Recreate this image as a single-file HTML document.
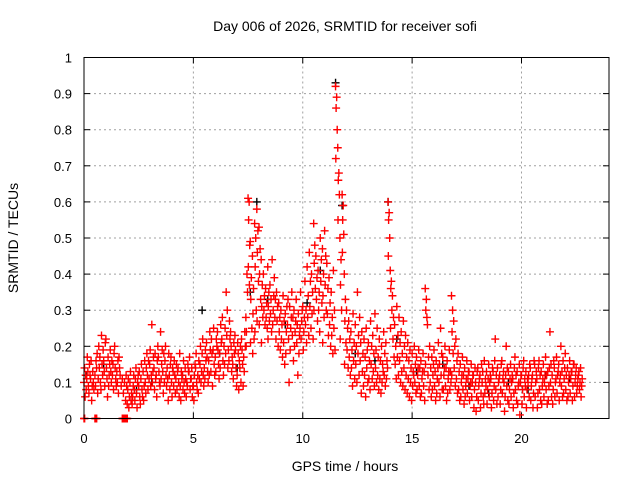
<!DOCTYPE html>
<html><head><meta charset="utf-8"><style>
html,body{margin:0;padding:0;background:#fff;}
svg{display:block;font-family:"Liberation Sans",sans-serif;}
</style></head><body>
<svg id="chart" width="640" height="480" viewBox="0 0 640 480">
<rect width="640" height="480" fill="#fff"/>
<text x="345" y="31" font-size="14" text-anchor="middle" fill="#000">Day 006 of 2026, SRMTID for receiver sofi</text>
<text transform="translate(18,238) rotate(-90)" font-size="14" text-anchor="middle" fill="#000">SRMTID / TECUs</text>
<text x="345" y="471" font-size="14" text-anchor="middle" fill="#000">GPS time / hours</text>
<g id="grid"></g>
<g id="ticks"></g>
<g id="black"></g>
<g id="red"></g>
<rect x="84" y="57.5" width="525" height="361" fill="none" stroke="#000" stroke-width="1"/>
</svg>
<script>
const xTicks = [0,5,10,15,20];
const yTicks = [0,0.1,0.2,0.3,0.4,0.5,0.6,0.7,0.8,0.9,1];
const yTickLabels = ["0","0.1","0.2","0.3","0.4","0.5","0.6","0.7","0.8","0.9","1"];
const redTimes = [0.0,0.1,0.2,0.3,0.4,0.5,0.6,0.7,0.8,0.9,1.0,1.1,1.2,1.3,1.4,1.5,1.6,1.7,1.8,1.9,2.0,2.1,2.2,2.3,2.4,2.5,2.6,2.7,2.8,2.9,3.0,3.1,3.2,3.3,3.4,3.5,3.6,3.7,3.8,3.9,4.0,4.1,4.2,4.3,4.4,4.5,4.6,4.7,4.8,4.9,5.0,5.1,5.2,5.3,5.4,5.5,5.6,5.7,5.8,5.9,6.0,6.1,6.2,6.3,6.4,6.5,6.6,6.7,6.8,6.9,7.0,7.1,7.2,7.3,7.4,7.5,7.6,7.7,7.8,7.9,8.0,8.1,8.2,8.3,8.4,8.5,8.6,8.7,8.8,8.9,9.0,9.1,9.2,9.3,9.4,9.5,9.6,9.7,9.8,9.9,10.0,10.1,10.2,10.3,10.4,10.5,10.6,10.7,10.8,10.9,11.0,11.1,11.2,11.3,11.4,11.5,11.6,11.7,11.8,11.9,12.0,12.1,12.2,12.3,12.4,12.5,12.6,12.7,12.8,12.9,13.0,13.1,13.2,13.3,13.4,13.5,13.6,13.7,13.8,13.9,14.0,14.1,14.2,14.3,14.4,14.5,14.6,14.7,14.8,14.9,15.0,15.1,15.2,15.3,15.4,15.5,15.6,15.7,15.8,15.9,16.0,16.1,16.2,16.3,16.4,16.5,16.6,16.7,16.8,16.9,17.0,17.1,17.2,17.3,17.4,17.5,17.6,17.7,17.8,17.9,18.0,18.1,18.2,18.3,18.4,18.5,18.6,18.7,18.8,18.9,19.0,19.1,19.2,19.3,19.4,19.5,19.6,19.7,19.8,19.9,20.0,20.1,20.2,20.3,20.4,20.5,20.6,20.7,20.8,20.9,21.0,21.1,21.2,21.3,21.4,21.5,21.6,21.7,21.8,21.9,22.0,22.1,22.2,22.3,22.4,22.5,22.6,22.7];
const redValues = [
[.10,.06,.14,.12],[.08,.17,.11,.13],[.09,.15,.07,.12],[.11,.05,.16,.09],[.13,.08,.10],[.12,.16,.09,.14],[.18,.11,.07,.20],[.14,.10,.17,.08],[.23,.12,.15,.19],[.16,.09,.13,.21],
[.22,.11,.14,.06],[.17,.12,.09,.15],[.19,.10,.13,.16],[.12,.08,.15,.18],[.20,.11,.14,.09],[.13,.16,.10,.07],[.17,.12,.14],[.09,.11],[.07,.10],[.05,.09,.12,.04],
[.08,.03,.11,.06],[.10,.05,.13,.07],[.04,.09,.06,.12],[.08,.11,.05,.14],[.07,.10,.03,.12],[.09,.06,.13,.04],[.11,.08,.15,.06],[.13,.09,.05,.16],[.10,.14,.07,.18],[.12,.16,.08,.11],
[.15,.09,.19,.12],[.26,.13,.10,.17],[.14,.18,.08,.11],[.12,.16,.06,.20],[.17,.10,.13,.09],[.24,.15,.11,.19],[.13,.18,.07,.10],[.16,.12,.20,.09],[.14,.05,.11,.18],[.12,.15,.08,.17],
[.10,.14,.06,.13],[.09,.12,.16,.07],[.11,.08,.15,.13],[.14,.06,.10,.18],[.09,.13,.05,.11],[.12,.16,.08,.10],[.07,.11,.14,.06],[.10,.15,.09,.13],[.13,.08,.17,.11],[.11,.06,.14,.09],
[.09,.12,.05,.15],[.14,.10,.18,.08],[.12,.16,.07,.11],[.15,.10,.20,.13],[.18,.12,.22,.09],[.14,.19,.11,.16],[.21,.13,.17,.10],[.16,.24,.12,.19],[.13,.18,.22,.09],[.19,.15,.25,.12],
[.17,.22,.13,.20],[.24,.15,.19,.11],[.18,.26,.14,.21],[.22,.16,.28,.12],[.20,.25,.15,.18],[.35,.30,.23,.14],[.19,.27,.16,.22],[.24,.13,.20,.17],[.15,.21,.11,.18],[.23,.14,.19,.09],
[.12,.18,.21,.08],[.16,.20,.14,.10],[.22,.15,.19,.09],[.17,.24,.13,.20],[.28,.40,.24,.35,.20],[.61,.60,.55,.48,.42,.37],[.49,.39,.33,.25,.21],[.45,.36,.29,.22,.18],[.54,.50,.42,.30,.24],[.58,.52,.46,.38,.27],
[.53,.47,.40,.33,.26],[.44,.37,.31,.28,.21],[.40,.34,.30,.26],[.36,.32,.28,.25],[.42,.35,.31,.27,.22],[.37,.33,.29,.24],[.44,.30,.26,.34],[.39,.33,.28,.22],[.35,.31,.27,.20],[.32,.28,.24,.19],
[.30,.26,.22,.17],[.34,.27,.21,.15],[.29,.24,.18,.31],[.26,.22,.33,.10],[.31,.25,.19,.28],[.35,.28,.23,.16],[.30,.24,.20,.27],[.33,.26,.21,.12],[.29,.23,.18,.25],[.35,.27,.22,.30],
[.31,.24,.19,.28],[.38,.30,.26,.21],[.42,.34,.28,.23],[.46,.38,.31,.25],[.40,.35,.29,.22],[.54,.48,.43,.36,.30],[.45,.39,.33,.27],[.41,.35,.30,.24],[.50,.44,.38,.32],[.47,.40,.34,.28,.21],
[.52,.45,.37,.30],[.43,.36,.29,.23],[.39,.32,.26,.20],[.35,.28,.23,.18],[.41,.30,.25,.19],[.92,.89,.86,.80,.72],[.75,.68,.66,.62,.55],[.50,.44,.37,.30,.22],[.62,.59,.55,.51,.46],[.40,.33,.27,.21,.15],
[.30,.25,.19,.14],[.27,.22,.17,.12],[.24,.19,.14,.09],[.29,.21,.16,.11],[.26,.20,.15,.10],[.35,.23,.18,.12],[.28,.21,.16,.07],[.24,.18,.13,.09],[.22,.17,.12,.06],[.25,.19,.14,.10],
[.21,.16,.11,.08],[.27,.20,.15,.11],[.23,.18,.13,.09],[.29,.19,.14,.10],[.25,.17,.12,.08],[.22,.16,.11,.07],[.20,.15,.10,.13],[.24,.18,.12,.09],[.21,.16,.11,.14],[.60,.57,.55,.50,.45],
[.41,.38,.36,.30,.25],[.34,.28,.22,.17],[.26,.20,.15,.11],[.31,.23,.17,.12],[.28,.21,.16,.10],[.24,.18,.13,.09],[.27,.20,.14,.08],[.23,.17,.12,.07],[.21,.16,.11,.06],[.19,.14,.10,.05],
[.18,.13,.09,.12],[.20,.15,.10,.07],[.17,.12,.08,.14],[.19,.14,.09,.06],[.16,.11,.07,.13],[.18,.13,.09,.05],[.36,.33,.30,.28,.15],[.26,.17,.12,.08],[.20,.14,.10,.06],[.17,.12,.08,.15],
[.19,.13,.09,.05],[.16,.11,.07,.14],[.21,.15,.10,.06],[.25,.18,.12,.08],[.17,.12,.08,.14],[.20,.14,.09,.05],[.16,.11,.07,.13],[.19,.13,.08,.10],[.34,.30,.24,.18,.12],[.27,.20,.14,.09],
[.22,.16,.11,.07],[.18,.13,.08,.05],[.15,.10,.06,.12],[.17,.12,.08,.04],[.14,.09,.06,.11],[.16,.11,.07,.13],[.13,.09,.05,.10],[.15,.10,.06,.12],[.12,.08,.03,.14],[.10,.06,.02,.13],
[.14,.09,.05,.11],[.12,.07,.03,.15],[.10,.06,.13,.04],[.16,.11,.07,.09],[.13,.08,.04,.11],[.15,.10,.06,.12],[.11,.07,.03,.14],[.13,.09,.05,.16],[.22,.12,.08,.04],[.14,.10,.06,.11],
[.12,.08,.04,.15],[.16,.11,.07,.13],[.10,.06,.02,.12],[.20,.14,.09,.05],[.13,.08,.04,.11],[.15,.10,.06,.12],[.11,.07,.03,.14],[.17,.12,.08,.05],[.13,.09,.04,.10],[.15,.10,.01,.12],
[.12,.08,.04,.14],[.16,.11,.06,.09],[.13,.08,.03,.11],[.10,.06,.12,.15],[.14,.09,.05,.11],[.12,.07,.03,.16],[.15,.10,.06,.13],[.11,.07,.03,.14],[.16,.12,.08,.05],[.13,.09,.04,.11],
[.15,.10,.06,.12],[.17,.12,.08,.04],[.13,.09,.05,.14],[.24,.15,.10,.06],[.12,.08,.04,.16],[.14,.10,.06,.11],[.17,.12,.07,.13],[.15,.10,.05,.12],[.20,.13,.09,.06],[.16,.11,.07,.14],
[.18,.12,.08,.05],[.14,.10,.06,.12],[.16,.11,.07,.13],[.13,.09,.05,.15],[.15,.10,.06,.12],[.14,.09,.07,.11],[.12,.08,.13,.10],[.14,.09,.06,.11]
];
const zeroTimes = [0.0,0.5,0.55,1.75,1.8,1.85,1.9,1.95];
const blackTimes = [0.1,0.9,2.4,3.1,4.5,5.4,6.2,7.0,7.6,7.9,8.4,9.2,10.2,10.8,11.5,11.8,12.4,13.3,13.9,14.3,15.2,16.4,17.6,18.5,19.4,20.3,21.1,22.2];
const blackValues = [0.12,0.15,0.08,0.10,0.12,0.30,0.18,0.14,0.35,0.60,0.33,0.26,0.32,0.41,0.93,0.59,0.18,0.16,0.60,0.22,0.13,0.15,0.09,0.07,0.10,0.08,0.12,0.11];

const NS='http://www.w3.org/2000/svg';
const X0=84,X1=609,Y0=418.5,Y1=57.5,XMAX=24;
function xs(t){return X0+(t/XMAX)*(X1-X0);}
function ys(v){return Y0-v*(Y0-Y1);}
const grid=document.getElementById('grid'),ticks=document.getElementById('ticks');
function mk(tag,attrs,parent){const e=document.createElementNS(NS,tag);for(const k in attrs)e.setAttribute(k,attrs[k]);parent.appendChild(e);return e;}
yTicks.forEach((v,i)=>{
  const y=ys(v);
  if(i>0&&i<yTicks.length-1){const g=mk('line',{x1:X0,x2:X1,y1:y,y2:y,stroke:'#a0a0a0','stroke-dasharray':'2,3'},grid);
  
  }
  mk('line',{x1:X0,x2:X0+6,y1:y,y2:y,stroke:'#000'},ticks);
  mk('line',{x1:X1-6,x2:X1,y1:y,y2:y,stroke:'#000'},ticks);
  const t=mk('text',{x:72,y:y+5,'font-size':13,'text-anchor':'end',fill:'#000'},ticks);
  t.textContent=yTickLabels[i];
  
  
});
xTicks.forEach(v=>{
  const x=xs(v);
  if(v>0){const g=mk('line',{x1:x,x2:x,y1:Y0,y2:Y1,stroke:'#a0a0a0','stroke-dasharray':'2,3'},grid);
  
  }
  mk('line',{x1:x,x2:x,y1:Y0,y2:Y0-6,stroke:'#000'},ticks);
  mk('line',{x1:x,x2:x,y1:Y1,y2:Y1+6,stroke:'#000'},ticks);
  const t=mk('text',{x:x,y:443,'font-size':13,'text-anchor':'middle',fill:'#000'},ticks);
  t.textContent=String(v);
  
  
});
function plus(parent,t,v,color){
  const x=xs(t),y=ys(v);
  const p=mk('path',{d:`M${x-4},${y}h8M${x},${y-4}v8`,stroke:color,'stroke-width':1.4,fill:'none'},parent);
  
  
}
const bg=document.getElementById('black'),rg=document.getElementById('red');
blackTimes.forEach((t,i)=>plus(bg,t,blackValues[i],'#000'));
const offs=[0,0.05,0.025,0.075,0.012,0.062];
redTimes.forEach((t,i)=>{redValues[i].forEach((v,j)=>plus(rg,t+offs[j%offs.length],v,'#ff0000'));});
zeroTimes.forEach(t=>{plus(rg,t,0,'#ff0000');plus(rg,t+0.03,0,'#ff0000');});
</script>
</body></html>
